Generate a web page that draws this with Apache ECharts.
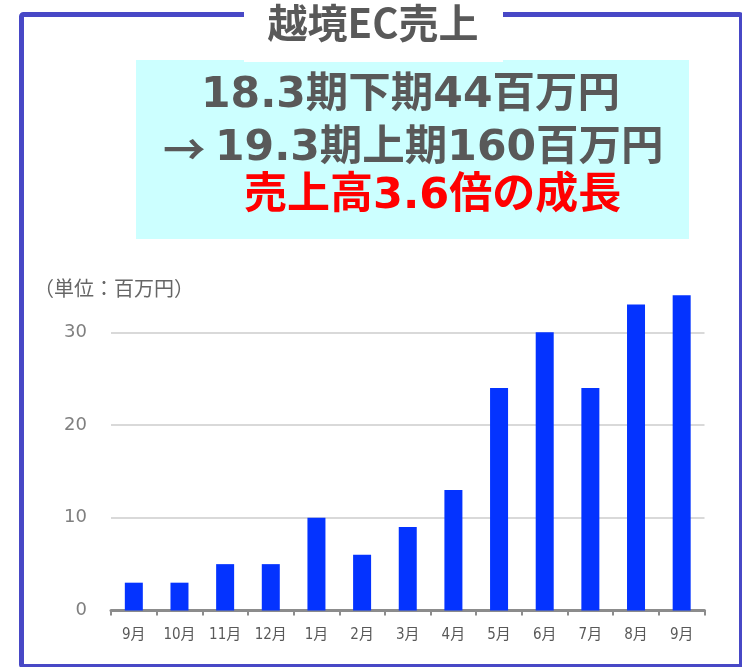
<!DOCTYPE html>
<html>
<head>
<meta charset="utf-8">
<script src="https://cdn.jsdelivr.net/npm/echarts@6/dist/echarts.min.js"></script>
<style>html,body{margin:0;padding:0;background:#fff;}#c{width:742px;height:667px;}</style>
</head>
<body>
<div id="c"></div>
<script>
const categories = ['9月','10月','11月','12月','1月','2月','3月','4月','5月','6月','7月','8月','9月'];
const sales = [3, 3, 5, 5, 10, 6, 9, 13, 24, 30, 24, 33, 34];
const yTicks = [0, 10, 20, 30];
const titleText = '越境EC売上';
const headline1 = '18.3期下期44百万円';
const headline2 = '→19.3期上期160百万円';
const headline3 = '売上高3.6倍の成長';
const unitText = '（単位：百万円）';

const CJK = '"Noto Sans CJK JP", "Noto Sans", sans-serif';
const HEAD = '"DejaVu Sans", ' + CJK;
const chart = echarts.init(document.getElementById('c'), null, {renderer: 'canvas'});
chart.setOption({
  animation: false,
  backgroundColor: '#ffffff',
  grid: {left: 111, right: 37.5, top: 239.6, bottom: 56.5, containLabel: false},
  xAxis: {
    type: 'category',
    data: categories,
    axisLine: {show: true, lineStyle: {color: '#8c8c8c', width: 3}},
    axisTick: {show: true, length: 5, lineStyle: {color: '#8c8c8c', width: 2}},
    axisLabel: {color: '#595959', fontSize: 15, margin: 17, fontFamily: '"DejaVu Sans Condensed", "DejaVu Sans", ' + CJK}
  },
  yAxis: {
    type: 'value',
    min: 0, max: 40, interval: 10,
    axisLine: {show: false},
    axisTick: {show: false},
    axisLabel: {
      color: '#7f7f7f', fontSize: 18, margin: 24, fontFamily: '"DejaVu Sans", sans-serif',
      showMaxLabel: false,
      formatter: v => (yTicks.indexOf(v) >= 0 ? String(v) : '')
    },
    splitLine: {show: true, lineStyle: {color: ['#d9d9d9','#d9d9d9','#d9d9d9','#d9d9d9','rgba(0,0,0,0)'], width: 2}}
  },
  series: [{
    type: 'bar',
    data: sales,
    barWidth: 18,
    itemStyle: {color: '#0433ff'},
    z: 3
  }],
  graphic: [
    {type: 'rect', z: 100, shape: {x: 21.5, y: 14.5, width: 720, height: 652, r: 2}, style: {fill: 'none', stroke: '#4848c6', lineWidth: 5}},
    {type: 'rect', z: 101, shape: {x: 136, y: 60, width: 553, height: 179}, style: {fill: '#ccffff'}},
    {type: 'rect', z: 102, shape: {x: 244, y: 0, width: 259, height: 62}, style: {fill: '#ffffff'}},
    {type: 'text', z: 103, x: 373, y: 23, style: {text: titleText, fill: '#595959', font: 'bold 40px ' + CJK, textAlign: 'center', textVerticalAlign: 'middle'}},
    {type: 'text', z: 103, x: 201, y: 96, style: {text: headline1, fill: '#595959', font: 'bold 42.5px ' + HEAD, textAlign: 'left', textVerticalAlign: 'middle'}},
    {type: 'text', z: 103, x: 163, y: 149, style: {
      text: '{a|' + headline2.slice(0, 1) + '}{b|' + headline2.slice(1) + '}',
      textAlign: 'left', textVerticalAlign: 'middle',
      rich: {
        a: {fill: '#595959', font: 'bold 42.5px ' + CJK, width: 52},
        b: {fill: '#595959', font: 'bold 42.5px ' + HEAD}
      }
    }},
    {type: 'text', z: 103, x: 244, y: 197, style: {text: headline3, fill: '#ff0000', font: 'bold 43px ' + HEAD, textAlign: 'left', textVerticalAlign: 'middle'}},
    {type: 'text', z: 103, x: 34, y: 288, style: {text: unitText, fill: '#666666', font: '20px ' + CJK, textAlign: 'left', textVerticalAlign: 'middle'}}
  ]
});
</script>
</body>
</html>
